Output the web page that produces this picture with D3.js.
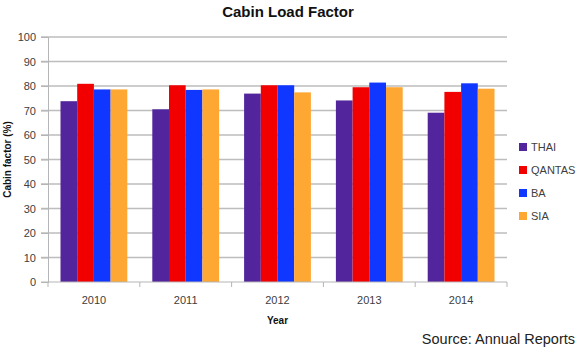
<!DOCTYPE html>
<html>
<head>
<meta charset="utf-8">
<script src="https://cdn.jsdelivr.net/npm/d3@7"></script>
<style>
  body { margin: 0; background: #fff; }
  svg { display: block; font-family: "Liberation Sans", Arial, sans-serif; }
</style>
</head>
<body>
<svg id="chart" width="576" height="352"></svg>
<script>
// data
const years = ["2010", "2011", "2012", "2013", "2014"];
const airlines = ["THAI", "QANTAS", "BA", "SIA"];
const thai = [73.8, 70.5, 76.9, 74.1, 69.1];
const qantas = [80.9, 80.3, 80.3, 79.5, 77.6];
const ba = [78.6, 78.4, 80.3, 81.4, 81.1];
const sia = [78.6, 78.6, 77.4, 79.5, 78.9];
const yTicks = [0, 10, 20, 30, 40, 50, 60, 70, 80, 90, 100];
const colors = ["#52259c", "#f20000", "#0f37ff", "#ffa733"];

const series = [thai, qantas, ba, sia];
const rows = years.map((yr, i) => ({ year: yr, values: series.map(s => s[i]) }));

const svg = d3.select("#chart");
const margin = { top: 37, right: 69, bottom: 70, left: 48 };
const width = 576 - margin.left - margin.right;
const height = 352 - margin.top - margin.bottom;

const g = svg.append("g").attr("transform", `translate(${margin.left},${margin.top})`);

const x = d3.scaleBand().domain(years).range([0, width]).paddingInner(0).paddingOuter(0);
const x1 = d3.scaleBand().domain(airlines).range([12.5, x.bandwidth() - 12.5]).padding(0);
const y = d3.scaleLinear().domain([0, 100]).range([height, 0]);

// gridlines
g.append("g").selectAll("line")
  .data(yTicks.filter(d => d > 0))
  .enter().append("line")
  .attr("x1", -7).attr("x2", width)
  .attr("y1", d => y(d)).attr("y2", d => y(d))
  .attr("stroke", "#bdbdbd").attr("stroke-width", 1.6);

// y axis
const yAxis = g.append("g")
  .call(d3.axisLeft(y).tickValues(yTicks).tickSize(7).tickPadding(5));
yAxis.select(".domain").attr("stroke", "#b5b5b5");
yAxis.selectAll(".tick line").attr("stroke", "#b5b5b5");
yAxis.selectAll("text").attr("fill", "#404040").style("font-size", "11px");

// bars
const groups = g.selectAll(".grp")
  .data(rows)
  .enter().append("g")
  .attr("transform", d => `translate(${x(d.year)},0)`);

groups.selectAll("rect")
  .data(d => d.values.map((v, k) => ({ key: airlines[k], value: v, k })))
  .enter().append("rect")
  .attr("x", d => x1(d.key))
  .attr("width", x1.bandwidth())
  .attr("y", d => y(d.value))
  .attr("height", d => height - y(d.value))
  .attr("fill", d => colors[d.k]);

// x axis
const xAxis = g.append("g").attr("transform", `translate(0,${height})`);
xAxis.append("line").attr("x1", -7).attr("x2", width).attr("stroke", "#b5b5b5");
xAxis.selectAll(".tk")
  .data(d3.range(years.length + 1))
  .enter().append("line")
  .attr("x1", i => i * x.bandwidth()).attr("x2", i => i * x.bandwidth())
  .attr("y1", 0).attr("y2", 5)
  .attr("stroke", "#b5b5b5");
xAxis.selectAll("text")
  .data(years)
  .enter().append("text")
  .attr("x", d => x(d) + x.bandwidth() / 2)
  .attr("y", 22)
  .attr("text-anchor", "middle")
  .attr("fill", "#404040")
  .style("font-size", "11px")
  .text(d => d);

// titles
svg.append("text")
  .attr("x", 288).attr("y", 17)
  .attr("text-anchor", "middle")
  .style("font-size", "15px").style("font-weight", "bold")
  .attr("fill", "#111")
  .text("Cabin Load Factor");

svg.append("text")
  .attr("x", margin.left + width / 2).attr("y", 324)
  .attr("text-anchor", "middle")
  .style("font-size", "10px").style("font-weight", "bold")
  .attr("fill", "#111")
  .text("Year");

svg.append("text")
  .attr("transform", `translate(11,${margin.top + height / 2}) rotate(-90)`)
  .attr("text-anchor", "middle")
  .style("font-size", "10px").style("font-weight", "bold")
  .attr("fill", "#111")
  .text("Cabin factor (%)");

// legend
const legend = svg.append("g").attr("transform", "translate(519,147)");
const li = legend.selectAll("g")
  .data(airlines)
  .enter().append("g")
  .attr("transform", (d, i) => `translate(0,${i * 23})`);
li.append("rect").attr("x", 0).attr("y", -4).attr("width", 8).attr("height", 8)
  .attr("fill", (d, i) => colors[i]);
li.append("text").attr("x", 12).attr("y", 4)
  .style("font-size", "11px").attr("fill", "#404040")
  .text(d => d);

// source note
svg.append("text")
  .attr("x", 575).attr("y", 344)
  .attr("text-anchor", "end")
  .style("font-size", "14.5px").attr("fill", "#222")
  .text("Source: Annual Reports");
</script>
</body>
</html>
